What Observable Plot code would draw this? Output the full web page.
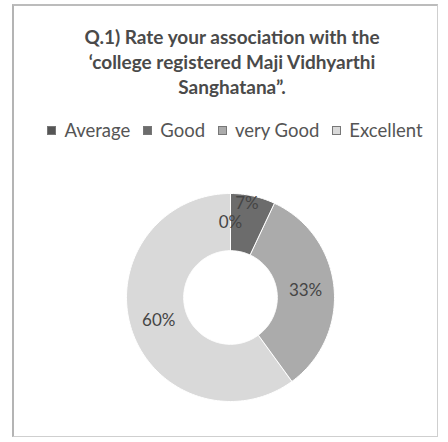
<!DOCTYPE html>
<html><head><meta charset="utf-8">
<script src="https://cdn.jsdelivr.net/npm/d3@7"></script>
<script src="https://cdn.jsdelivr.net/npm/@observablehq/plot@0.6"></script>
<style>
body{margin:0;background:#fff;}
#wrap{position:relative;width:448px;height:442px;overflow:hidden;background:#fff;font-family:Lato,"Open Sans",sans-serif;}
#frame{position:absolute;left:12px;top:4px;width:423px;height:430px;border:1px solid #cfcfcf;border-left:2px solid #b4b4b4;border-top:2px solid #bcbcbc;}
#title{position:absolute;left:16px;width:432px;top:24px;text-align:center;font-weight:bold;font-size:19px;line-height:25px;color:#4a4a4a;}
#legend{position:absolute;top:120px;left:20px;width:430px;display:flex;justify-content:center;gap:13px;font-size:18.5px;color:#555;line-height:20px;}
#legend span.item{display:flex;align-items:center;gap:8px;}
#legend i{display:inline-block;width:7px;height:7px;border:1px solid #777;}
#chart{position:absolute;top:160px;left:0;}
</style></head>
<body>
<div id="wrap">
  <div id="frame"></div>
  <div id="title">Q.1) Rate your association with the<br>‘college registered Maji Vidhyarthi<br>Sanghatana”.</div>
  <div id="legend"></div>
  <div id="chart"></div>
</div>
<script>
const categories = ["Average", "Good", "very Good", "Excellent"];
const values = [0, 7, 33, 60];
const labels = ["0%", "7%", "33%", "60%"];

const colors = ["#555555", "#6c6c6c", "#ababab", "#d9d9d9"];
const cx = 230, cy = 137, R = 104, hole = 0.45;

// legend
const leg = document.getElementById("legend");
categories.forEach((c, i) => {
  const s = document.createElement("span");
  s.className = "item";
  const sw = document.createElement("i");
  sw.style.background = colors[i];
  s.appendChild(sw);
  s.appendChild(document.createTextNode(c));
  leg.appendChild(s);
});

// build sector polygons
const total = d3.sum(values);
const pts = [];
const labelData = [];
let cum = 0;
categories.forEach((c, i) => {
  const a0 = cum / total * 2 * Math.PI;
  cum += values[i];
  const a1 = cum / total * 2 * Math.PI;
  const mid = (a0 + a1) / 2, rm = (1 + hole) / 2;
  labelData.push({key: c, text: labels[i], x: rm * Math.sin(mid), y: rm * Math.cos(mid)});
  if (values[i] <= 0) return;
  const n = Math.max(2, Math.ceil(values[i] * 2));
  for (let k = 0; k <= n; k++) {
    const a = a0 + (a1 - a0) * k / n;
    pts.push({key: c, x: Math.sin(a), y: Math.cos(a)});
  }
  for (let k = n; k >= 0; k--) {
    const a = a0 + (a1 - a0) * k / n;
    pts.push({key: c, x: hole * Math.sin(a), y: hole * Math.cos(a)});
  }
});

const chart = Plot.plot({
  width: 448, height: 275, margin: 0,
  x: {domain: [-1, 1], range: [cx - R, cx + R], axis: null},
  y: {domain: [-1, 1], range: [cy + R, cy - R], axis: null},
  color: {domain: categories, range: colors},
  style: {background: "transparent", fontFamily: "Lato, sans-serif"},
  marks: [
    Plot.line(pts, {x: "x", y: "y", z: "key", fill: "key", stroke: "white", strokeWidth: 1, curve: "linear-closed"}),
    Plot.text(labelData.filter(d => d.key !== "Good"), {x: "x", y: "y", text: "text", fontSize: 17, fill: "#454545"}),
    Plot.text(labelData.filter(d => d.key === "Good"), {x: "x", y: "y", text: "text", fontSize: 17, fill: "#454545", dy: -20})
  ]
});
document.getElementById("chart").appendChild(chart);
</script>
</body></html>
